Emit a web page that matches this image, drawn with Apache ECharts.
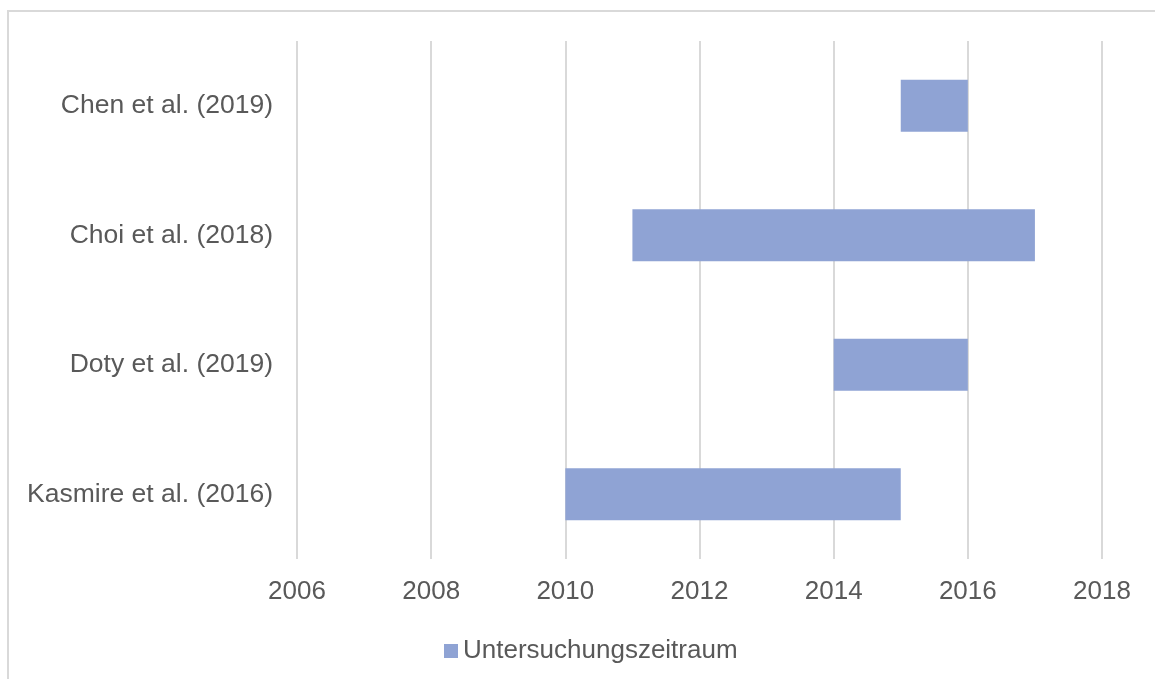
<!DOCTYPE html>
<html>
<head>
<meta charset="utf-8">
<script src="https://cdn.jsdelivr.net/npm/echarts@6/dist/echarts.min.js"></script>
<style>
    html, body { margin: 0; padding: 0; background: #fff; }
    #chart { width: 1155px; height: 679px; }
</style>
</head>
<body>
<div id="chart"></div>
<script>
const studies = ['Chen et al. (2019)', 'Choi et al. (2018)', 'Doty et al. (2019)', 'Kasmire et al. (2016)'];
const startYears = [2015, 2011, 2014, 2010];
const endYears = [2016, 2017, 2016, 2015];
const durations = endYears.map((e, i) => e - startYears[i]);

const font = '"Liberation Sans", Arial, sans-serif';
const textColor = '#595959';

const chart = echarts.init(document.getElementById('chart'));
chart.setOption({
    animation: false,
    graphic: [{
        type: 'rect',
        shape: { x: 8, y: 11, width: 1300, height: 800 },
        style: { fill: 'none', stroke: '#d9d9d9', lineWidth: 2 }
    }],
    grid: { left: 297, right: 53, top: 41, bottom: 120 },
    legend: {
        data: ['Untersuchungszeitraum'],
        left: 439,
        top: 633,
        icon: 'rect',
        itemWidth: 14,
        itemHeight: 14,
        itemGap: 6,
        textStyle: { color: textColor, fontSize: 26, fontFamily: font }
    },
    xAxis: {
        type: 'value',
        min: 2006,
        max: 2018,
        interval: 2,
        axisLine: { show: false },
        axisTick: { show: false },
        axisLabel: {
            color: textColor, fontSize: 26, fontFamily: font, margin: 20,
            formatter: v => String(v)
        },
        splitLine: { lineStyle: { color: '#d9d9d9', width: 2 } }
    },
    yAxis: {
        type: 'category',
        data: studies,
        inverse: true,
        axisLine: { show: false },
        axisTick: { show: false },
        axisLabel: { color: textColor, fontSize: 26.5, fontFamily: font, margin: 24 }
    },
    series: [
        {
            name: 'base',
            type: 'bar',
            stack: 'span',
            data: startYears,
            barWidth: 52,
            itemStyle: { color: 'transparent' },
            emphasis: { disabled: true }
        },
        {
            name: 'Untersuchungszeitraum',
            type: 'bar',
            stack: 'span',
            data: durations,
            barWidth: 52,
            itemStyle: { color: '#8fa3d4' }
        }
    ]
});
</script>
</body>
</html>
